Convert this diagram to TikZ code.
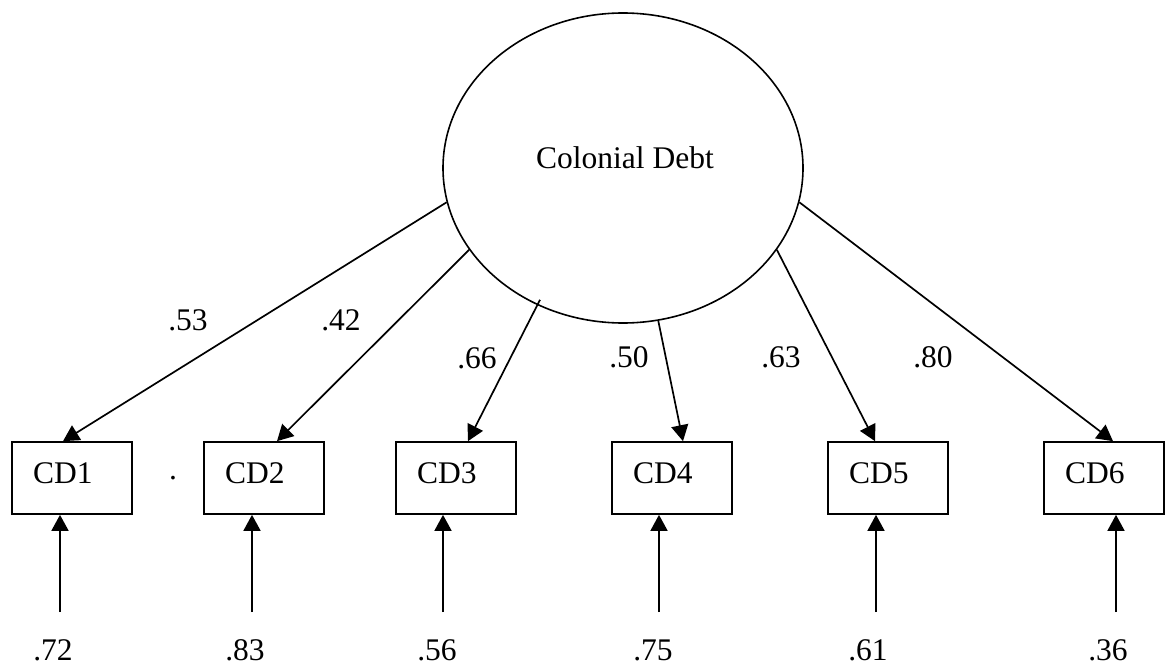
\documentclass[tikz,border=0pt]{standalone}
\usepackage{fontspec}
\setmainfont{Liberation Serif}
\usetikzlibrary{shapes.geometric,arrows.meta,calc}
\begin{document}
\begin{tikzpicture}[x=1pt,y=-1pt,
  every node/.style={font=\fontsize{31.5}{36}\selectfont},
  latent/.style={draw,ellipse,line width=1.6pt,minimum width=360pt,minimum height=310pt,inner sep=0pt},
  obs/.style={draw,rectangle,line width=1.7pt,minimum width=120pt,minimum height=72pt,inner xsep=21pt,text width=78pt,align=left,text height=21pt,text depth=11pt},
  lbl/.style={inner sep=0pt},
  conn/.style={line width=1.7pt,-{Triangle[length=16pt,width=17pt]}}
]
\useasboundingbox (0,0) rectangle (1165,669);

\node[latent, label={[xshift=2pt,yshift=10pt]center:Colonial Debt}] (L) at (623,168) {};

\node[obs] (c1) at (72,478) {CD1};
\node[obs] (c2) at (264,478) {CD2};
\node[obs] (c3) at (456,478) {CD3};
\node[obs] (c4) at (672,478) {CD4};
\node[obs] (c5) at (888,478) {CD5};
\node[obs] (c6) at (1104,478) {CD6};

\node[lbl,anchor=base] (dot) at (173,479) {.};

\draw[conn] (L.191) -- ($(c1.north)+(-9,0)$);
\draw[conn] (L.208) -- ($(c2.north)+(13,0)$);
\draw[conn,shorten <=-6pt] (L.238) -- ($(c3.north)+(12,0)$);
\draw[conn] (L.283) -- ($(c4.north)+(11,0)$);
\draw[conn] (L.332) -- ($(c5.north)+(-13,0)$);
\draw[conn] (L.349) -- ($(c6.north)+(9,0)$);

\node[lbl] (l1) at (188,320) {.53};
\node[lbl] (l2) at (341,320) {.42};
\node[lbl] (l3) at (477,358) {.66};
\node[lbl] (l4) at (629,357) {.50};
\node[lbl] (l5) at (781,357) {.63};
\node[lbl] (l6) at (933,357) {.80};

\coordinate (u1) at (60,612);
\coordinate (u2) at (252,612);
\coordinate (u3) at (443,612);
\coordinate (u4) at (659,612);
\coordinate (u5) at (876,612);
\coordinate (u6) at (1116,612);

\draw[conn] (u1) -- (u1 |- c1.south);
\draw[conn] (u2) -- (u2 |- c2.south);
\draw[conn] (u3) -- (u3 |- c3.south);
\draw[conn] (u4) -- (u4 |- c4.south);
\draw[conn] (u5) -- (u5 |- c5.south);
\draw[conn] (u6) -- (u6 |- c6.south);

\node[lbl] (e1) at (53,650) {.72};
\node[lbl] (e2) at (245,650) {.83};
\node[lbl] (e3) at (437,650) {.56};
\node[lbl] (e4) at (653,650) {.75};
\node[lbl] (e5) at (868,650) {.61};
\node[lbl] (e6) at (1108,650) {.36};
\end{tikzpicture}
\end{document}
